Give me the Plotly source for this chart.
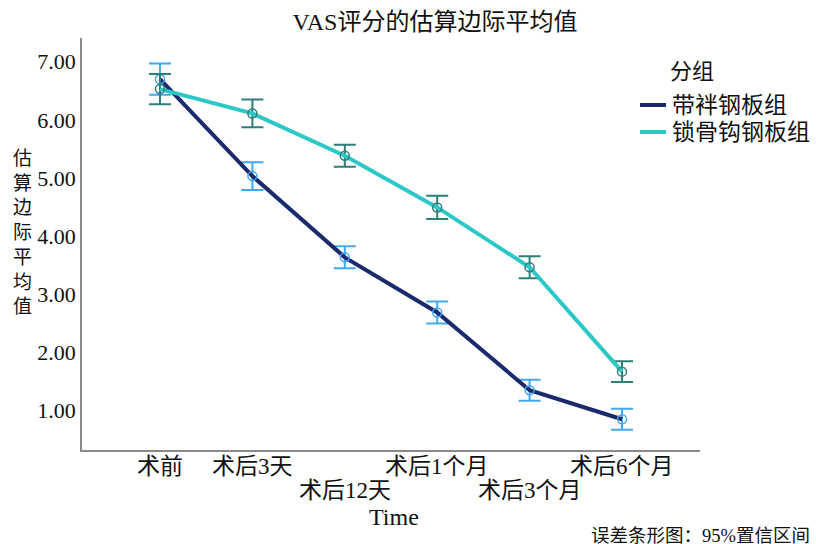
import plotly.graph_objects as go

# Estimated marginal means of VAS score by time point and group (95% CI half-widths)
time_points = ["术前", "术后3天", "术后12天", "术后1个月", "术后3个月", "术后6个月"]
label_row = [0, 0, 1, 0, 1, 0]  # staggered tick label rows

group_names = ["带袢钢板组", "锁骨钩钢板组"]
loop_plate_mean = [6.70, 5.03, 3.63, 2.68, 1.34, 0.84]
loop_plate_ci = [0.27, 0.24, 0.19, 0.19, 0.18, 0.18]
hook_plate_mean = [6.53, 6.11, 5.38, 4.49, 3.46, 1.66]
hook_plate_ci = [0.26, 0.24, 0.19, 0.20, 0.19, 0.18]

y_ticks = [1, 2, 3, 4, 5, 6, 7]

FONT = "Liberation Serif, Noto Sans CJK SC, serif"

series = [
    (group_names[0], loop_plate_mean, loop_plate_ci, "#1a2a6c", "#45a8ee"),
    (group_names[1], hook_plate_mean, hook_plate_ci, "#2cc8c8", "#2f7f78"),
]

# Plot-area geometry in pixels
W, H = 816, 544
L, R, T, B = 82, 700, 38, 450
PW, PH = R - L, B - T


def px(x):
    return (x - L) / PW


def py(y):
    return (B - y) / PH


x_idx = list(range(len(time_points)))

fig = go.Figure()
for name, mean, ci, line_col, bar_col in series:
    fig.add_trace(go.Scatter(
        x=x_idx, y=mean, name=name, mode="lines+markers", showlegend=False,
        line=dict(color=line_col, width=4),
        marker=dict(symbol="circle-open", size=9, color=bar_col,
                    line=dict(width=1.5, color=bar_col)),
        error_y=dict(type="data", array=ci, visible=True,
                     color=bar_col, thickness=2, width=11),
    ))

fig.update_layout(
    width=W, height=H,
    margin=dict(l=L, r=W - R, t=T, b=H - B, autoexpand=False),
    paper_bgcolor="white", plot_bgcolor="white",
    font=dict(family=FONT, size=22, color="#111"),
    title=dict(text="VAS评分的估算边际平均值", x=435 / W, xanchor="center",
               y=1 - 22 / H, yanchor="middle", font=dict(size=24, family=FONT)),
    showlegend=False,
    xaxis=dict(range=[-0.844, 5.844], showgrid=False, zeroline=False,
               showline=True, linecolor="#8a8a8a", linewidth=1.5,
               showticklabels=False, ticks=""),
    yaxis=dict(range=[0.31, 7.41], showgrid=False, zeroline=False,
               showline=True, linecolor="#8a8a8a", linewidth=1.5,
               tickvals=y_ticks, tickformat=".2f", ticks="",
               tickfont=dict(size=22, family=FONT)),
)

# Staggered category labels under the x axis
for i, (lab, row) in enumerate(zip(time_points, label_row)):
    fig.add_annotation(x=i, xref="x", y=0, yref="paper", yanchor="top",
                       yshift=-2 - 24 * row, text=lab, showarrow=False,
                       font=dict(size=23, family=FONT))

# Legend: title plus line swatches
fig.add_annotation(x=px(668), xref="paper", xanchor="left",
                   y=py(72), yref="paper", yanchor="middle",
                   text="分组", showarrow=False, font=dict(size=22, family=FONT))
for k, (name, mean, ci, line_col, bar_col) in enumerate(series):
    yy = py(105 + 27 * k)
    fig.add_shape(type="line", xref="paper", yref="paper",
                  x0=px(640), x1=px(666), y0=yy, y1=yy,
                  line=dict(color=line_col, width=4))
    fig.add_annotation(x=px(670), xref="paper", xanchor="left",
                       y=yy, yref="paper", yanchor="middle",
                       text=name, showarrow=False, font=dict(size=23, family=FONT))

# Axis titles and footnote
fig.add_annotation(x=px(394), xref="paper", y=py(517),
                   yref="paper", yanchor="middle", text="Time", showarrow=False,
                   font=dict(size=24, family=FONT))
fig.add_annotation(x=px(11), xref="paper", y=py(232),
                   yref="paper", yanchor="middle",
                   text="<br>".join("估算边际平均值"), showarrow=False,
                   font=dict(size=19, family=FONT))
fig.add_annotation(x=px(812), xref="paper", xanchor="right",
                   y=py(536), yref="paper", yanchor="middle",
                   text="误差条形图：95%置信区间", showarrow=False,
                   font=dict(size=18.5, family=FONT))

fig.write_html("out.html")
